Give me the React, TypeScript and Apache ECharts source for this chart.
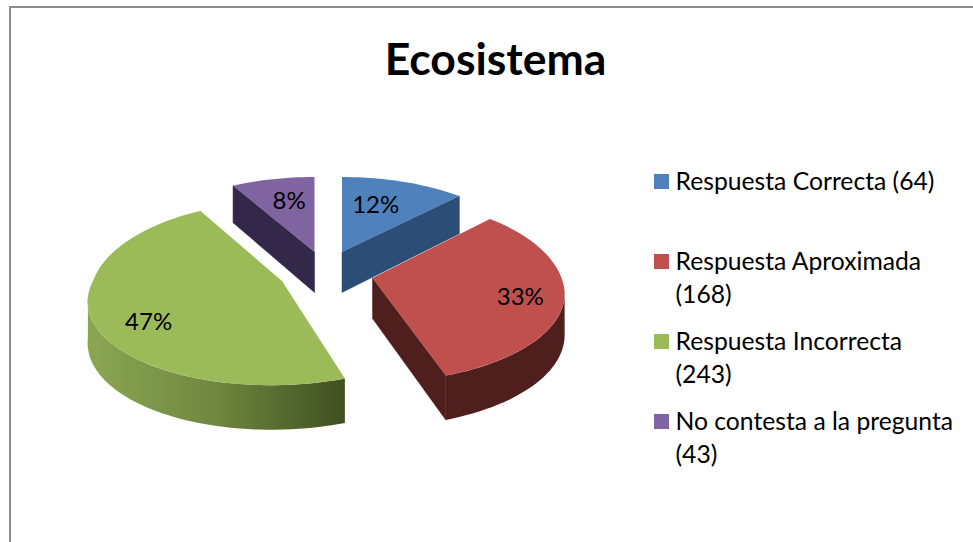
import React, { useEffect, useRef } from "react";
import * as echarts from "echarts";

// ---- data ----
const titleText = "Ecosistema";
const seriesNames = ["Respuesta Correcta", "Respuesta Aproximada", "Respuesta Incorrecta", "No contesta a la pregunta"];
const counts = [64, 168, 243, 43];
const percentLabels = ["12%", "33%", "47%", "8%"];
const legendLabels = ["Respuesta Correcta (64)", "Respuesta Aproximada\n(168)", "Respuesta Incorrecta\n(243)", "No contesta a la pregunta\n(43)"];

// ---- styling ----
const topColors = ["#4f81bd", "#c0504d", "#9bbb59", "#8064a2"];
const faceColors = ["#2c4d75", "#4f1f1d", "#4f6228", "#33274a"];
const paintOrder = [3, 0, 2, 1];

// ---- layout of the exploded 3D pie ----
const apexes = [[342, 252], [372.5, 278], [282, 281], [314.5, 252]];
const skews = [0, 0, -11, 0];
const labelFractions = [[0.55, 0.69], [0.77, 0.87], [0.7, 1.04], [0.61, 0.72]];
const perspectives = [0.18, 0.18, 0.18, 0.18];
const backScales = [88.5, 93.5, 93.5, 88.5];
const frontScales = [83, 85.5, 85.5, 83];
const RX = 189;
const FONT = "Lato, 'Open Sans', sans-serif";

const total = counts.reduce((a, b) => a + b, 0);
const DEG = Math.PI / 180;

function project(i: number, theta: number) {
  const X = Math.sin(theta);
  const Y = Math.cos(theta);
  const s = 1 / (1 + perspectives[i] * Y);
  const k = Y >= 0 ? backScales[i] : frontScales[i];
  return {
    dx: RX * X * s + skews[i] * Math.max(0, -Y),
    dy: -k * Y * s,
    depth: 40.5 - 4 * Y,
  };
}

function renderSlice(i: number, value: number, startValue: number) {
  const a0 = (startValue / total) * 2 * Math.PI;
  const a1 = ((startValue + value) / total) * 2 * Math.PI;
  const [ax, ay] = apexes[i];
  const pt = (t: number) => {
    const p = project(i, t);
    return { x: ax + p.dx, y: ay + p.dy, d: p.depth };
  };
  const children: any[] = [];
  const face = (p: { x: number; y: number; d: number }) => ({
    type: "polygon",
    shape: { points: [[ax, ay], [p.x, p.y], [p.x, p.y + p.d], [ax, ay + 40.5]] },
    style: { fill: faceColors[i], stroke: faceColors[i], lineWidth: 0.5 },
  });
  const pStart = pt(a0);
  const pEnd = pt(a1);
  if (pStart.x < ax - 0.5) children.push(face(pStart));
  if (pEnd.x > ax + 0.5) children.push(face(pEnd));

  // visible part of the outer wall
  const vis0 = Math.acos(-perspectives[i]);
  const vis1 = 2 * Math.PI - vis0;
  const w0 = Math.max(a0, vis0);
  const w1 = Math.min(a1, vis1);
  if (w1 > w0) {
    const top: number[][] = [];
    const bottom: number[][] = [];
    const n = Math.max(2, Math.ceil((w1 - w0) / (2 * DEG)));
    for (let j = 0; j <= n; j++) {
      const p = pt(w0 + ((w1 - w0) * j) / n);
      top.push([p.x, p.y]);
      bottom.unshift([p.x, p.y + p.d]);
    }
    const fill: any =
      i === 2
        ? new echarts.graphic.LinearGradient(0, 0, 1, 0, [
            { offset: 0, color: "#8ba653" },
            { offset: 0.5, color: "#6f873f" },
            { offset: 1, color: "#3f4f20" },
          ])
        : faceColors[i];
    children.push({
      type: "polygon",
      shape: { points: top.concat(bottom) },
      style: { fill },
    });
  }

  // top face
  const pts: number[][] = [[ax, ay]];
  const n = Math.max(4, Math.ceil((a1 - a0) / (2 * DEG)));
  for (let j = 0; j <= n; j++) {
    const p = pt(a0 + ((a1 - a0) * j) / n);
    pts.push([p.x, p.y]);
  }
  children.push({
    type: "polygon",
    shape: { points: pts },
    style: { fill: topColors[i] },
  });

  // percent label
  const mid = project(i, (a0 + a1) / 2);
  children.push({
    type: "text",
    style: {
      x: ax + mid.dx * labelFractions[i][0],
      y: ay + mid.dy * labelFractions[i][1],
      text: percentLabels[i],
      fill: "#000",
      font: `24px ${FONT}`,
      align: "center",
      verticalAlign: "middle",
    },
  });
  return { type: "group", children };
}

export default function App() {
  const ref = useRef<HTMLDivElement>(null);
  useEffect(() => {
    document.body.style.margin = "0";
    const chart = echarts.init(ref.current!, undefined, { renderer: "svg" });
    const starts = counts.map((_, i) => counts.slice(0, i).reduce((a, b) => a + b, 0));
    const legendY = [174, 254, 334, 414];
    chart.setOption({
      animation: false,
      backgroundColor: "#ffffff",
      title: {
        text: titleText,
        left: 490.5,
        top: 30,
        textAlign: "center",
        textStyle: { fontFamily: FONT, fontWeight: "bold", fontSize: 44.5, color: "#000" },
      },
      series: paintOrder.map((i, order) => ({
        type: "custom",
        name: seriesNames[i],
        coordinateSystem: "none",
        z: 2 + order,
        silent: true,
        data: [[counts[i], starts[i]]],
        renderItem: (_p: any, api: any) => renderSlice(i, api.value(0), api.value(1)),
      })),
      graphic: [
        {
          type: "polyline",
          silent: true,
          shape: { points: [[10, 542], [10, 7], [973, 7]] },
          style: { fill: "none", stroke: "#8c8c8c", lineWidth: 2 },
        },
        ...legendLabels.flatMap((label, i) => [
          {
            type: "rect",
            silent: true,
            shape: { x: 654, y: legendY[i], width: 15, height: 15 },
            style: { fill: topColors[i] },
          },
          {
            type: "text",
            silent: true,
            x: 675.5,
            y: legendY[i] - 10,
            style: {
              text: label,
              fill: "#000",
              font: `24.7px ${FONT}`,
              lineHeight: 33,
              align: "left",
              verticalAlign: "top",
            },
          },
        ]),
      ],
    });
    return () => chart.dispose();
  }, []);
  return <div ref={ref} style={{ position: "absolute", left: 0, top: 0, width: 973, height: 542 }} />;
}
